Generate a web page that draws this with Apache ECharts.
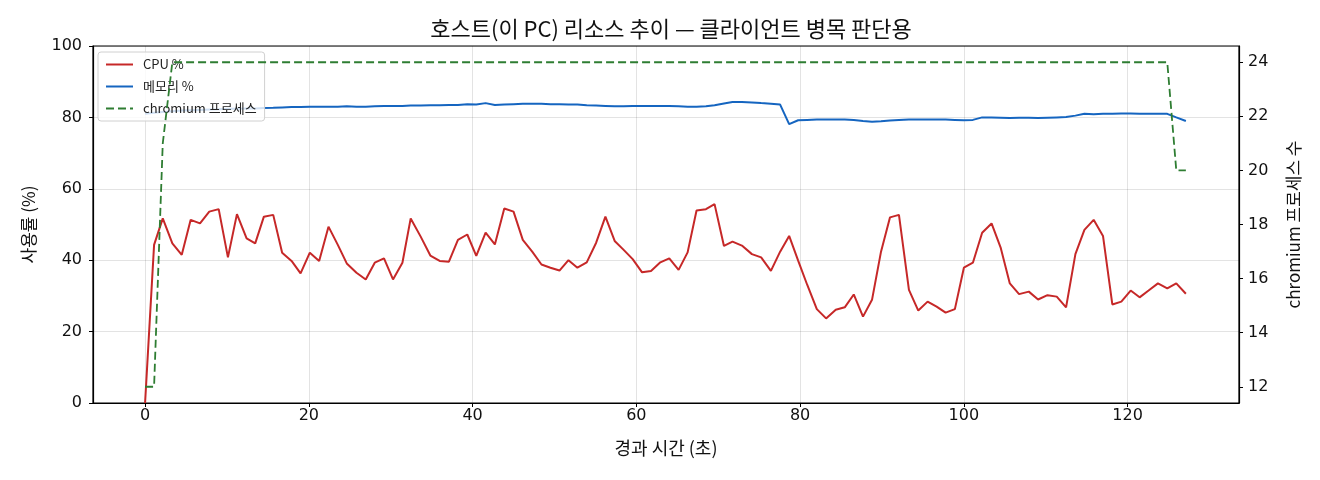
<!DOCTYPE html>
<html>
<head>
<meta charset="utf-8">
<script src="https://cdn.jsdelivr.net/npm/echarts@6/dist/echarts.min.js"></script>
<style>
html,body{margin:0;padding:0;background:#fff;}
#chart{width:1320px;height:480px;}
</style>
</head>
<body>
<div id="chart"></div>
<script>
const titleText = '호스트(이 PC) 리소스 추이 — 클라이언트 병목 판단용';
const xName = '경과 시간 (초)';
const yLeftName = '사용률 (%)';
const yRightName = 'chromium 프로세스 수';
const seriesNames = ['CPU %', '메모리 %', 'chromium 프로세스'];

const times = [0,1.10,2.16,3.33,4.48,5.57,6.71,7.84,8.99,10.12,11.22,12.40,13.45,14.51,15.65,16.74,17.89,18.99,20.12,21.26,
22.40,23.54,24.63,25.82,26.95,28.05,29.18,30.28,31.43,32.44,33.66,34.84,35.98,37.11,38.21,39.35,40.45,41.59,42.72,43.87,
45.00,46.13,47.28,48.41,49.51,50.61,51.71,52.80,53.94,55.09,56.22,57.35,58.45,59.55,60.70,61.79,62.93,64.02,65.16,66.26,
67.35,68.50,69.55,70.70,71.74,72.89,74.11,75.24,76.43,77.56,78.66,79.76,80.85,82.04,83.17,84.35,85.45,86.55,87.68,88.78,
89.88,90.98,92.07,93.29,94.43,95.57,96.67,97.77,98.90,100.00,101.10,102.23,103.38,104.48,105.61,106.74,107.93,109.06,110.21,111.34,
112.48,113.62,114.72,115.85,116.99,118.13,119.23,120.37,121.46,122.56,123.70,124.84,125.94,127.11];

const cpu = [0,44.3,51.7,44.7,41.5,51.3,50.3,53.6,54.3,40.8,52.9,46.1,44.7,52.2,52.7,42.1,39.8,36.3,42.1,39.8,
49.4,44.3,39.1,36.5,34.6,39.3,40.5,34.6,39.3,51.7,46.6,41.3,39.8,39.6,45.7,47.2,41.2,47.7,44.4,54.5,
53.6,45.7,42.4,38.8,37.9,37.1,40.0,37.9,39.4,44.9,52.2,45.4,42.9,40.3,36.6,37.0,39.4,40.5,37.3,42.2,
53.9,54.3,55.7,44.0,45.2,44.1,41.7,40.8,37.0,42.4,46.8,39.9,33.2,26.3,23.7,26.1,26.8,30.4,24.2,28.9,
42.4,52.0,52.7,31.7,25.9,28.4,27.0,25.3,26.3,37.9,39.3,47.7,50.3,43.6,33.5,30.5,31.2,29.0,30.2,29.8,
26.8,41.7,48.5,51.3,46.8,27.6,28.4,31.5,29.6,31.5,33.5,32.1,33.5,30.6];

const mem = [81.0,81.3,81.5,81.7,81.9,82.0,82.1,82.2,82.3,82.4,82.4,82.5,82.5,82.6,82.7,82.8,82.9,82.9,83.0,83.0,
83.0,83.0,83.1,83.0,83.0,83.1,83.2,83.2,83.2,83.3,83.3,83.4,83.4,83.5,83.5,83.7,83.6,84.0,83.5,83.6,
83.7,83.8,83.8,83.8,83.7,83.7,83.6,83.6,83.4,83.3,83.2,83.1,83.1,83.2,83.2,83.2,83.2,83.2,83.1,83.0,
83.0,83.1,83.4,83.9,84.3,84.3,84.2,84.0,83.8,83.6,78.1,79.2,79.3,79.4,79.4,79.4,79.4,79.3,79.0,78.8,
78.9,79.1,79.3,79.4,79.4,79.4,79.4,79.4,79.3,79.2,79.3,80.0,80.0,79.9,79.8,79.9,79.9,79.8,79.9,80.0,
80.1,80.5,81.0,80.9,81.0,81.0,81.1,81.1,81.0,81.0,81.0,81.0,80.0,79.0];

const procs = [12,12,21,24,24,24,24,24,24,24,24,24,24,24,24,24,24,24,24,24,
24,24,24,24,24,24,24,24,24,24,24,24,24,24,24,24,24,24,24,24,
24,24,24,24,24,24,24,24,24,24,24,24,24,24,24,24,24,24,24,24,
24,24,24,24,24,24,24,24,24,24,24,24,24,24,24,24,24,24,24,24,
24,24,24,24,24,24,24,24,24,24,24,24,24,24,24,24,24,24,24,24,
24,24,24,24,24,24,24,24,24,24,24,24,20,20];

const pair = (xs, ys) => xs.map((x, i) => [x, ys[i]]);

const FONT = '"Noto Sans CJK KR", "Noto Sans", sans-serif';
const NUMFONT = '"DejaVu Sans", "Noto Sans CJK KR", sans-serif';
const chart = echarts.init(document.getElementById('chart'), null, {renderer: 'canvas'});

const axisCommon = {
  axisLine: {show: true, onZero: false, lineStyle: {color: '#000', width: 1.2}},
  axisTick: {show: true, inside: false, length: 4, lineStyle: {color: '#000', width: 1}},
};

chart.setOption({
  backgroundColor: '#fff',
  animation: false,
  textStyle: {fontFamily: FONT},
  title: {
    text: titleText,
    left: 666, top: 13, textAlign: 'center',
    textStyle: {fontFamily: FONT, fontSize: 22, fontWeight: 'normal', color: '#111'}
  },
  grid: {
    left: 93, right: 81, top: 46, bottom: 77,
    show: true, borderColor: '#000', borderWidth: 1.2, backgroundColor: 'transparent', z: 0
  },
  legend: {
    orient: 'vertical', left: 98, top: 52, z: 3,
    itemWidth: 27, itemHeight: 14, itemGap: 9,
    padding: [6, 8, 6, 7],
    itemStyle: {opacity: 0},
    lineStyle: {width: 2},
    backgroundColor: 'rgba(255,255,255,0.8)',
    borderColor: '#d0d0d0', borderWidth: 1, borderRadius: 3,
    textStyle: {fontFamily: FONT, fontSize: 13, color: '#222', padding: [0, 0, 0, 5]},
    data: seriesNames
  },
  xAxis: Object.assign({
    type: 'value', min: -6.36, max: 133.6, splitNumber: 7,
    name: xName, nameLocation: 'middle', nameGap: 36,
    nameTextStyle: {fontFamily: FONT, fontSize: 18, color: '#111'},
    axisLabel: {fontFamily: NUMFONT, fontSize: 16, color: '#111', margin: 5, showMinLabel: false, showMaxLabel: false},
    splitLine: {show: true, lineStyle: {color: 'rgba(0,0,0,0.11)', width: 1}}
  }, axisCommon),
  yAxis: [Object.assign({
    type: 'value', min: 0, max: 100, interval: 20,
    name: yLeftName, nameLocation: 'middle', nameGap: 56,
    nameTextStyle: {fontFamily: FONT, fontSize: 17, color: '#111'},
    axisLabel: {fontFamily: NUMFONT, fontSize: 16, color: '#111', margin: 11},
    splitLine: {show: true, lineStyle: {color: 'rgba(0,0,0,0.11)', width: 1}}
  }, axisCommon), Object.assign({
    type: 'value', min: 11.4, max: 24.6, splitNumber: 6, position: 'right', alignTicks: false,
    name: yRightName, nameLocation: 'middle', nameGap: 46,
    nameTextStyle: {fontFamily: FONT, fontSize: 17, color: '#111'},
    axisLabel: {fontFamily: NUMFONT, fontSize: 16, color: '#111', margin: 9, showMinLabel: false, showMaxLabel: false},
    splitLine: {show: false}
  }, axisCommon)],
  series: [{
    name: seriesNames[0], type: 'line', yAxisIndex: 0, z: 2,
    data: pair(times, cpu), showSymbol: false, symbol: 'none',
    lineStyle: {color: '#c62828', width: 2}, itemStyle: {color: '#c62828'}
  }, {
    name: seriesNames[1], type: 'line', yAxisIndex: 0, z: 2,
    data: pair(times, mem), showSymbol: false, symbol: 'none',
    lineStyle: {color: '#1565c0', width: 2}, itemStyle: {color: '#1565c0'}
  }, {
    name: seriesNames[2], type: 'line', yAxisIndex: 1, z: 5,
    data: pair(times, procs), showSymbol: false, symbol: 'none',
    lineStyle: {color: '#2e7d32', width: 1.8, type: [8, 4]}, itemStyle: {color: '#2e7d32'}
  }]
});
</script>
</body>
</html>
